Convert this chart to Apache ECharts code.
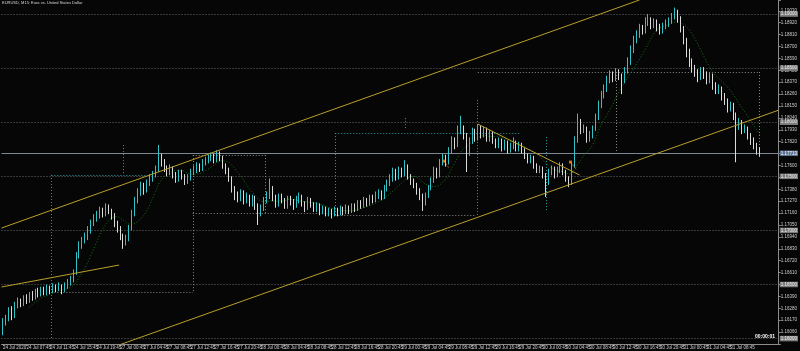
<!DOCTYPE html>
<html><head><meta charset="utf-8">
<script src="https://cdn.jsdelivr.net/npm/echarts@6/dist/echarts.min.js"></script>
<style>html,body{margin:0;padding:0;background:#060606;}#c{width:800px;height:351px;}</style>
</head><body><div id="c"></div>
<script>
const TITLE = "EURUSD, M15: Euro vs. United States Dollar";
const COUNTDOWN = "00:00:01";
const BASE = 1.1595;      // axis bottom
const Y_MAX = 1.1913;     // axis top
const TICK_STEP = 0.0011;
const N_CATS = 265;
const FIRST_OPEN = 1.1610;
const LAST_PRICE = 1.17713;
const MA_PERIOD = 10;

const closes = [
1.1615,1.1618,1.1626,1.1621,1.1631,1.1635,1.1632,1.1637,1.1635,1.1640,
1.1638,1.1643,1.1641,1.1645,1.1642,1.1646,1.1644,1.1647,1.1646,1.1648,
1.1645,1.1649,1.1651,1.1654,1.1661,1.1677,1.1686,1.1691,1.1694,1.1700,
1.1707,1.1711,1.1714,1.1718,1.1716,1.1721,1.1718,1.1714,1.1707,1.1702,
1.1695,1.1689,1.1693,1.1702,1.1716,1.1728,1.1735,1.1741,1.1737,1.1744,
1.1748,1.1752,1.1756,1.1767,1.1763,1.1757,1.1754,1.1757,1.1751,1.1748,
1.1753,1.1750,1.1746,1.1749,1.1754,1.1756,1.1760,1.1757,1.1763,1.1765,
1.1767,1.1769,1.1765,1.1771,1.1767,1.1760,1.1756,1.1748,1.1739,1.1732,
1.1730,1.1735,1.1728,1.1731,1.1725,1.1730,1.1723,1.1716,1.1720,1.1728,
1.1732,1.1739,1.1730,1.1725,1.1731,1.1728,1.1723,1.1729,1.1726,1.1723,
1.1728,1.1731,1.1725,1.1721,1.1728,1.1724,1.1720,1.1723,1.1718,1.1720,
1.1716,1.1718,1.1715,1.1719,1.1716,1.1720,1.1717,1.1721,1.1718,1.1722,
1.1720,1.1725,1.1723,1.1728,1.1725,1.1730,1.1728,1.1732,1.1735,1.1731,
1.1739,1.1743,1.1748,1.1754,1.1750,1.1756,1.1752,1.1759,1.1750,1.1746,
1.1742,1.1737,1.1732,1.1725,1.1732,1.1739,1.1746,1.1756,1.1751,1.1763,
1.1767,1.1763,1.1774,1.1783,1.1779,1.1793,1.1794,1.1788,1.1772,1.1783,
1.1791,1.1785,1.1794,1.1788,1.1793,1.1785,1.1790,1.1783,1.1779,1.1783,
1.1776,1.1781,1.1774,1.1778,1.1781,1.1776,1.1779,1.1774,1.1769,1.1765,
1.1767,1.1760,1.1756,1.1757,1.1751,1.1744,1.1754,1.1757,1.1751,1.1756,
1.1760,1.1754,1.1748,1.1744,1.1760,1.1783,1.1800,1.1793,1.1794,1.1785,
1.1788,1.1794,1.1804,1.1816,1.1825,1.1831,1.1839,1.1844,1.1841,1.1846,
1.1843,1.1839,1.1848,1.1856,1.1867,1.1876,1.1881,1.1887,1.1885,1.1893,
1.1894,1.1890,1.1893,1.1888,1.1885,1.1889,1.1891,1.1894,1.1898,1.1902,
1.1896,1.1887,1.1876,1.1865,1.1856,1.1850,1.1846,1.1841,1.1848,1.1844,
1.1839,1.1843,1.1834,1.1830,1.1831,1.1824,1.1820,1.1813,1.1816,1.1806,
1.1797,1.1800,1.1793,1.1794,1.1788,1.1783,1.1779,1.1774,1.1771];

const highs = [
1.1619,1.1622,1.1629,1.1630,1.1634,1.1638,1.1637,1.1640,1.1641,1.1643,
1.1644,1.1646,1.1647,1.1648,1.1648,1.1650,1.1649,1.1651,1.1650,1.1652,
1.1650,1.1652,1.1655,1.1658,1.1664,1.1680,1.1690,1.1694,1.1698,1.1704,
1.1710,1.1715,1.1718,1.1722,1.1721,1.1725,1.1724,1.1720,1.1716,1.1709,
1.1704,1.1697,1.1696,1.1705,1.1719,1.1731,1.1739,1.1745,1.1744,1.1747,
1.1752,1.1755,1.1760,1.1779,1.1771,1.1766,1.1760,1.1761,1.1759,1.1754,
1.1756,1.1756,1.1752,1.1752,1.1757,1.1760,1.1763,1.1762,1.1766,1.1768,
1.1770,1.1772,1.1771,1.1774,1.1773,1.1769,1.1762,1.1758,1.1750,1.1741,
1.1736,1.1738,1.1737,1.1735,1.1733,1.1733,1.1732,1.1725,1.1724,1.1731,
1.1736,1.1748,1.1741,1.1733,1.1734,1.1734,1.1730,1.1732,1.1732,1.1729,
1.1732,1.1735,1.1733,1.1727,1.1731,1.1730,1.1726,1.1726,1.1725,1.1723,
1.1722,1.1721,1.1720,1.1722,1.1721,1.1723,1.1722,1.1724,1.1723,1.1725,
1.1725,1.1728,1.1728,1.1731,1.1730,1.1733,1.1733,1.1736,1.1738,1.1737,
1.1742,1.1747,1.1752,1.1758,1.1757,1.1759,1.1758,1.1765,1.1761,1.1752,
1.1748,1.1744,1.1739,1.1734,1.1735,1.1742,1.1749,1.1759,1.1758,1.1766,
1.1771,1.1770,1.1777,1.1787,1.1786,1.1797,1.1806,1.1797,1.1790,1.1786,
1.1795,1.1794,1.1798,1.1797,1.1796,1.1795,1.1793,1.1792,1.1785,1.1786,
1.1785,1.1784,1.1783,1.1781,1.1786,1.1783,1.1782,1.1781,1.1776,1.1771,
1.1770,1.1769,1.1762,1.1760,1.1759,1.1753,1.1757,1.1760,1.1759,1.1759,
1.1763,1.1762,1.1756,1.1750,1.1763,1.1787,1.1808,1.1803,1.1798,1.1796,
1.1792,1.1797,1.1808,1.1820,1.1829,1.1835,1.1843,1.1848,1.1847,1.1850,
1.1849,1.1845,1.1851,1.1860,1.1871,1.1880,1.1885,1.1891,1.1890,1.1897,
1.1900,1.1897,1.1896,1.1895,1.1891,1.1892,1.1895,1.1897,1.1901,1.1906,
1.1904,1.1898,1.1889,1.1878,1.1868,1.1859,1.1853,1.1849,1.1851,1.1851,
1.1847,1.1846,1.1845,1.1837,1.1835,1.1833,1.1827,1.1822,1.1819,1.1818,
1.1809,1.1804,1.1802,1.1798,1.1796,1.1790,1.1786,1.1781,1.1777];

const lows = [
1.1603,1.1612,1.1616,1.1617,1.1619,1.1628,1.1629,1.1630,1.1632,1.1633,
1.1635,1.1636,1.1638,1.1639,1.1640,1.1640,1.1641,1.1642,1.1643,1.1644,
1.1641,1.1643,1.1646,1.1649,1.1652,1.1659,1.1674,1.1683,1.1688,1.1691,
1.1697,1.1704,1.1708,1.1711,1.1712,1.1713,1.1715,1.1710,1.1703,1.1698,
1.1691,1.1683,1.1686,1.1690,1.1700,1.1713,1.1725,1.1732,1.1733,1.1735,
1.1741,1.1745,1.1749,1.1754,1.1759,1.1754,1.1750,1.1751,1.1748,1.1744,
1.1745,1.1747,1.1742,1.1743,1.1746,1.1751,1.1753,1.1754,1.1755,1.1760,
1.1762,1.1764,1.1762,1.1763,1.1764,1.1757,1.1752,1.1745,1.1735,1.1728,
1.1726,1.1727,1.1724,1.1725,1.1722,1.1722,1.1719,1.1705,1.1713,1.1718,
1.1725,1.1729,1.1727,1.1721,1.1722,1.1725,1.1720,1.1720,1.1723,1.1719,
1.1721,1.1725,1.1722,1.1717,1.1719,1.1721,1.1717,1.1717,1.1714,1.1715,
1.1713,1.1713,1.1711,1.1713,1.1713,1.1714,1.1714,1.1715,1.1715,1.1716,
1.1717,1.1718,1.1720,1.1721,1.1722,1.1723,1.1725,1.1726,1.1729,1.1728,
1.1729,1.1736,1.1741,1.1745,1.1746,1.1747,1.1749,1.1750,1.1747,1.1742,
1.1739,1.1733,1.1728,1.1718,1.1723,1.1730,1.1737,1.1744,1.1748,1.1749,
1.1760,1.1759,1.1761,1.1771,1.1775,1.1777,1.1789,1.1784,1.1754,1.1769,
1.1780,1.1782,1.1783,1.1785,1.1786,1.1782,1.1782,1.1780,1.1776,1.1776,
1.1773,1.1774,1.1771,1.1772,1.1775,1.1773,1.1773,1.1771,1.1766,1.1762,
1.1762,1.1757,1.1753,1.1753,1.1748,1.1731,1.1742,1.1751,1.1748,1.1749,
1.1753,1.1751,1.1745,1.1740,1.1742,1.1758,1.1781,1.1789,1.1790,1.1781,
1.1782,1.1785,1.1792,1.1802,1.1813,1.1822,1.1828,1.1836,1.1837,1.1838,
1.1839,1.1826,1.1836,1.1845,1.1853,1.1864,1.1873,1.1878,1.1881,1.1882,
1.1889,1.1886,1.1887,1.1884,1.1881,1.1882,1.1886,1.1888,1.1891,1.1895,
1.1892,1.1883,1.1872,1.1860,1.1851,1.1846,1.1842,1.1837,1.1839,1.1840,
1.1835,1.1836,1.1830,1.1826,1.1826,1.1820,1.1816,1.1809,1.1810,1.1802,
1.1763,1.1793,1.1789,1.1790,1.1784,1.1779,1.1775,1.1770,1.1768];

const timeLabels = [
"24 Jul 2020","24 Jul 07:45","24 Jul 11:45","24 Jul 15:45","24 Jul 19:45",
"27 Jul 00:45","27 Jul 04:45","27 Jul 08:45","27 Jul 12:45","27 Jul 16:45","27 Jul 20:45",
"28 Jul 00:45","28 Jul 04:45","28 Jul 08:45","28 Jul 12:45","28 Jul 16:45","28 Jul 20:45",
"29 Jul 00:45","29 Jul 04:45","29 Jul 08:45","29 Jul 12:45","29 Jul 16:45","29 Jul 20:45",
"30 Jul 00:45","30 Jul 04:45","30 Jul 08:45","30 Jul 12:45","30 Jul 16:45","30 Jul 20:45",
"31 Jul 00:45","31 Jul 04:45","31 Jul 08:45","31 Jul 12:45"];
const LABEL_EVERY = 8;

const priceLevels = [1.16000,1.16500,1.17000,1.17500,1.18000,1.18500,1.19000];

// drawn objects: [barIndex1, price1, barIndex2, price2]
const trendLines = [
  [-0.5,1.17022,217,1.19130],
  [39.6,1.15941,264.5,1.18112],
  [-0.5,1.16477,39.6,1.16680],
  [161.9,1.17983,196.6,1.17512]
];
const cyanBoxLines = [
  [16.5,1.17512,16.5,1.15987],
  [16.5,1.17512,48.8,1.17512],
  [41.0,1.17789,41.0,1.17512],
  [113.3,1.17900,113.3,1.17142],
  [113.3,1.17900,176.2,1.17900],
  [161.6,1.18205,161.6,1.17142],
  [185.4,1.17863,185.4,1.17188],
  [137.1,1.18038,137.1,1.17928]
];
const grayBoxLines = [
  [16.5,1.16430,64.7,1.16430],
  [64.7,1.17696,64.7,1.16430],
  [64.7,1.17696,89.5,1.17696],
  [89.5,1.17696,89.5,1.17160],
  [64.7,1.17160,113.3,1.17160],
  [113.3,1.17142,160.9,1.17142],
  [161.9,1.18464,257.7,1.18464],
  [257.7,1.18464,257.7,1.17724],
  [209.2,1.18464,209.2,1.17724]
];
const arrowMarks = [[150.4,1.17641],[193.5,1.17632]];
const arrowTails = [[150.4,1.17641,152.1,1.17576],[193.5,1.17632,195.6,1.17558]];

// ---- build ----
const toAxis = p => (p - BASE) * 10000;
const fmtPrice = v => (BASE + v / 10000).toFixed(5);
const cats = Array.from({length: N_CATS}, (_, i) => String(i));
const candles = closes.map((c, i) => {
  const o = i === 0 ? FIRST_OPEN : closes[i - 1];
  return [toAxis(o), toAxis(c), toAxis(lows[i]), toAxis(highs[i])];
});
const ma = closes.map((c, i) => {
  if (i < MA_PERIOD - 1) return '-';
  let s = 0; for (let k = i - MA_PERIOD + 1; k <= i; k++) s += closes[k];
  return toAxis(s / MA_PERIOD);
});
const segs = arr => arr.map(s => ({coords: [[s[0], toAxis(s[1])], [s[2], toAxis(s[3])]]}));
const FONT = 'Liberation Sans';
const stepPips = Math.round(TICK_STEP * 10000);
const labelIdx = (i) => i % LABEL_EVERY === 0 && i / LABEL_EVERY < timeLabels.length;

const levelLabel = {
  show: true, position: 'end', distance: 1, fontSize: 4.5, fontFamily: FONT,
  color: '#f0f0f0', backgroundColor: '#7c7c7c', padding: [0.5, 1, 0, 1],
  formatter: p => fmtPrice(p.value)
};

const option = {
  backgroundColor: '#060606',
  animation: false,
  grid: {left: 0, right: 20, top: 0, bottom: 7},
  xAxis: [{
    type: 'category', data: cats, boundaryGap: true,
    axisLine: {show: true, onZero: false, lineStyle: {color: '#8c8c8c', width: 1}},
    axisTick: {show: true, interval: labelIdx, alignWithLabel: true, length: 2, lineStyle: {color: '#8c8c8c'}},
    axisLabel: {interval: labelIdx, formatter: v => timeLabels[Number(v) / LABEL_EVERY] || '',
      color: '#cfcfcf', fontSize: 4.5, fontFamily: FONT, margin: 1, align: 'left'},
    splitLine: {show: false}
  }, {
    type: 'value', min: -0.5, max: N_CATS - 0.5, show: false,
    axisLine: {show: false, onZero: false}
  }],
  yAxis: {
    type: 'value', position: 'right', min: 0, max: Math.round(toAxis(Y_MAX)), interval: stepPips,
    axisLine: {show: true, onZero: false, lineStyle: {color: '#8c8c8c', width: 1}},
    axisTick: {show: true, length: 2, lineStyle: {color: '#8c8c8c'}},
    axisLabel: {color: '#cfcfcf', fontSize: 4.5, fontFamily: FONT, margin: 2, align: 'left',
      formatter: v => (v > 0 && Math.abs(v / stepPips - Math.round(v / stepPips)) < 1e-6) ? fmtPrice(v) : ''},
    splitLine: {show: false}
  },
  series: [
    {
      type: 'candlestick', data: candles, barWidth: 1, z: 3,
      itemStyle: {color: '#2fc3c8', color0: '#dcdcdc', borderColor: '#2fc3c8', borderColor0: '#dcdcdc', borderWidth: 1},
      markLine: {
        silent: true, symbol: 'none', animation: false, z: 1,
        data: priceLevels.map(v => ({yAxis: toAxis(v), lineStyle: {color: '#6a6a6a', type: [1, 2], width: 1}, label: levelLabel}))
          .concat([{yAxis: toAxis(LAST_PRICE), lineStyle: {color: '#7d8794', type: 'solid', width: 1},
            label: Object.assign({}, levelLabel, {backgroundColor: '#5d7394', color: '#ffffff'})}])
      }
    },
    {
      type: 'line', data: ma, symbol: 'none', z: 2,
      lineStyle: {color: '#127a12', width: 1, type: [1, 2]}
    },
    {
      type: 'lines', coordinateSystem: 'cartesian2d', xAxisIndex: 1, yAxisIndex: 0, silent: true, clip: true, z: 1,
      data: segs(grayBoxLines), lineStyle: {color: '#8a8a8a', width: 1, type: [1, 2], opacity: 1}
    },
    {
      type: 'lines', coordinateSystem: 'cartesian2d', xAxisIndex: 1, yAxisIndex: 0, silent: true, clip: true, z: 1,
      data: segs(cyanBoxLines), lineStyle: {color: '#2a9ea8', width: 1, type: [1, 2], opacity: 1}
    },
    {
      type: 'lines', coordinateSystem: 'cartesian2d', xAxisIndex: 1, yAxisIndex: 0, silent: true, clip: true, z: 4,
      data: segs(trendLines), lineStyle: {color: '#b9a02a', width: 1, type: 'solid', opacity: 1}
    },
    {
      type: 'lines', coordinateSystem: 'cartesian2d', xAxisIndex: 1, yAxisIndex: 0, silent: true, clip: true, z: 4,
      data: segs(arrowTails), lineStyle: {color: '#d9731a', width: 1, type: [1, 1], opacity: 1}
    },
    {
      type: 'scatter', xAxisIndex: 1, yAxisIndex: 0, silent: true, z: 5,
      data: arrowMarks.map(a => [a[0], toAxis(a[1])]), symbol: 'rect', symbolSize: 3,
      itemStyle: {color: '#ff8a1c'}
    }
  ],
  graphic: [
    {type: 'text', left: 2, top: 1, z: 10, style: {text: TITLE, fill: '#d8d8d8', font: '4px "Liberation Sans"'}},
    {type: 'text', left: 755, top: 334, z: 10, style: {text: COUNTDOWN, fill: '#ffffff', font: 'bold 5px "Liberation Sans"'}}
  ]
};
const chart = echarts.init(document.getElementById('c'), null, {renderer: 'canvas'});
chart.setOption(option);
</script></body></html>
